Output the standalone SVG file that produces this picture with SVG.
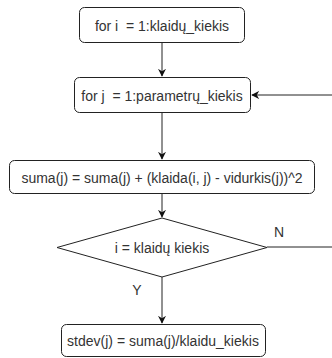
<svg xmlns="http://www.w3.org/2000/svg" width="332" height="358" viewBox="0 0 332 358">
  <style>
    .box { fill: #ffffff; stroke: #222222; stroke-width: 1; }
    .lbl { font-family: "Liberation Sans", Arial, sans-serif; font-size: 14px; fill: #333333; text-anchor: middle; dominant-baseline: central; white-space: pre; }
    .edge { fill: none; stroke: #222222; stroke-width: 1; }
  </style>
  <defs>
    <marker id="arrow" viewBox="0 0 10 10" refX="9" refY="5" markerWidth="8" markerHeight="8" markerUnits="userSpaceOnUse" orient="auto">
      <path d="M0,0 L10,5 L0,10 L3,5 Z" fill="#111111"/>
    </marker>
  </defs>
  <rect width="332" height="358" fill="#ffffff"/>

  <g id="connectors">
    <line class="edge" x1="162" y1="43" x2="162" y2="76" marker-end="url(#arrow)"/>
    <line class="edge" x1="162" y1="113" x2="162" y2="159" marker-end="url(#arrow)"/>
    <line class="edge" x1="162" y1="194" x2="162" y2="217" marker-end="url(#arrow)"/>
    <line class="edge" x1="162" y1="277" x2="162" y2="323" marker-end="url(#arrow)"/>
    <polyline class="edge" points="267,247 332,247"/>
    <line class="edge" x1="332" y1="95" x2="252" y2="95" marker-end="url(#arrow)"/>
    <text class="lbl" x="279" y="232">N</text>
    <text class="lbl" x="137" y="290">Y</text>
  </g>

  <g id="loop-i">
    <rect class="box" x="79.5" y="7.5" width="165" height="35" rx="5"/>
    <text class="lbl" x="162" y="26" xml:space="preserve">for i  = 1:klaidų_kiekis</text>
  </g>

  <g id="loop-j">
    <rect class="box" x="74.5" y="77.5" width="176" height="35" rx="5"/>
    <text class="lbl" x="162" y="96" xml:space="preserve">for j  = 1:parametrų_kiekis</text>
  </g>

  <g id="sum">
    <rect class="box" x="9.5" y="160.5" width="305" height="33" rx="5"/>
    <text class="lbl" x="162" y="178">suma(j) = suma(j) + (klaida(i, j) - vidurkis(j))^2</text>
  </g>

  <g id="check">
    <polygon class="box" points="162,218 267,247.5 162,277 57,247.5"/>
    <text class="lbl" x="162" y="248">i = klaidų kiekis</text>
  </g>

  <g id="stdev">
    <rect class="box" x="61.5" y="324.5" width="204" height="32" rx="5"/>
    <text class="lbl" x="163" y="341">stdev(j) = suma(j)/klaidu_kiekis</text>
  </g>
</svg>
